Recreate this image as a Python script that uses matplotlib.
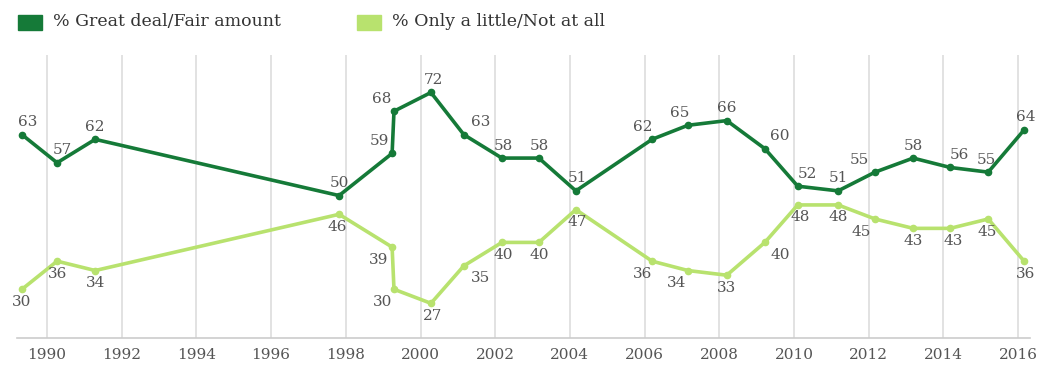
import matplotlib
matplotlib.use("Agg")
import matplotlib.pyplot as plt
from matplotlib.patches import Rectangle

# survey dates (fractional years) and percentages
years = [1989.33, 1990.27, 1991.29, 1997.82, 1999.24, 1999.29, 2000.28, 2001.16,
         2002.18, 2003.17, 2004.16, 2006.2, 2007.16, 2008.2, 2009.22, 2010.1,
         2011.18, 2012.17, 2013.19, 2014.18, 2015.2, 2016.16]
great_fair = [63, 57, 62, 50, 59, 68, 72, 63, 58, 58, 51, 62, 65, 66, 60, 52,
              51, 55, 58, 56, 55, 64]
little_not = [30, 36, 34, 46, 39, 30, 27, 35, 40, 40, 47, 36, 34, 33, 40, 48,
              48, 45, 43, 43, 45, 36]
tick_years = list(range(1990, 2017, 2))

# horizontal nudges of the value labels (points)
dx_top = [4, 4, 0, 0, -9, -9, 2, 12, 1, 0, 1, -7, -6, 0, 11, 7, 0, -11, 0, 7, -1, 1]
dx_bot = [0, 0, 0, -1, -10, -8, 1, 12, 1, 0, 1, -7, -8, 0, 11, 2, 0, -10, 0, 2, -1, 1]

dark = "#157a38"
light = "#b8e26e"
grey = "#555555"
W, H = 1043, 369

fig = plt.figure(figsize=(W / 100, H / 100), dpi=100)
fig.set_facecolor("white")
ax = fig.add_axes([17 / W, 1 - 338 / H, (1030 - 17) / W, (338 - 55) / H])

px_per_year = 37.35
x0 = 1990 + (17 - 47) / px_per_year
x1 = 1990 + (1030 - 47) / px_per_year
ax.set_xlim(x0, x1)
ax.set_ylim(19.6, 80.0)

for t in tick_years:
    ax.axvline(t, color="#dddddd", lw=1.2, zorder=0)

ax.plot(years, great_fair, color=dark, lw=2.6, marker="o", ms=4.5, clip_on=False, zorder=3)
ax.plot(years, little_not, color=light, lw=2.6, marker="o", ms=4.5, clip_on=False, zorder=3)

font = dict(family="DejaVu Serif", color=grey, fontsize=11)
for x, v, d in zip(years, great_fair, dx_top):
    ax.annotate(str(v), (x, v), xytext=(d, 4), textcoords="offset points",
                ha="center", va="bottom", **font)
for x, v, d in zip(years, little_not, dx_bot):
    ax.annotate(str(v), (x, v), xytext=(d, -4), textcoords="offset points",
                ha="center", va="top", **font)

for s in ["top", "right", "left"]:
    ax.spines[s].set_visible(False)
ax.spines["bottom"].set_color("#cccccc")
ax.spines["bottom"].set_linewidth(1.2)
ax.set_yticks([])
ax.set_xticks(tick_years)
ax.set_xticklabels([str(t) for t in tick_years], **font)
ax.tick_params(axis="x", length=0, pad=7)

# legend drawn in figure pixels
fig.patches.append(Rectangle((18 / W, 1 - 30 / H), 24 / W, 15 / H, color=dark,
                             transform=fig.transFigure))
fig.patches.append(Rectangle((357 / W, 1 - 30 / H), 24 / W, 15 / H, color=light,
                             transform=fig.transFigure))
fig.text(53 / W, 1 - 22 / H, "% Great deal/Fair amount", va="center",
         family="DejaVu Serif", color="#333333", fontsize=12.5)
fig.text(392 / W, 1 - 22 / H, "% Only a little/Not at all", va="center",
         family="DejaVu Serif", color="#333333", fontsize=12.5)

fig.savefig("out.png", dpi=100)
